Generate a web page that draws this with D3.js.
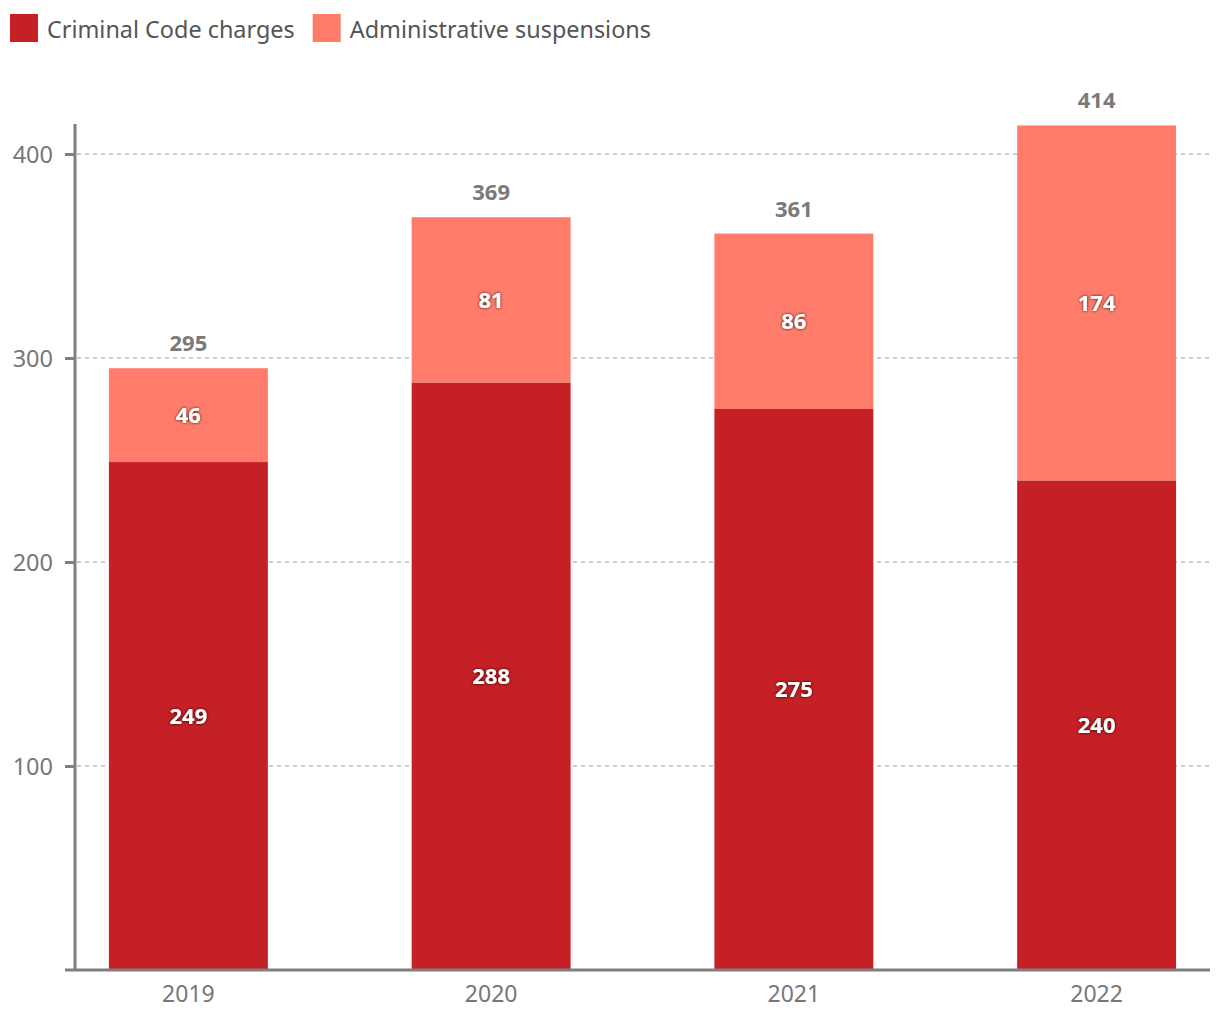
<!DOCTYPE html>
<html><head><meta charset="utf-8">
<script src="https://cdn.jsdelivr.net/npm/d3@7"></script>
<style>body{margin:0;background:#fff;} svg{display:block;}</style>
</head><body>
<script>
const years = ["2019", "2020", "2021", "2022"];
const criminal = [249, 288, 275, 240];
const admin = [46, 81, 86, 174];
const seriesNames = ["Criminal Code charges", "Administrative suspensions"];
const yTicks = [100, 200, 300, 400];
const colors = ["#c42026", "#ff7c6b"];

const W = 1220, H = 1020;
const svg = d3.select("body").append("svg").attr("width", W).attr("height", H);
const font = "'Noto Sans', sans-serif";

const x = d3.scaleBand().domain(years).range([75, 1210]).paddingInner(0.475).paddingOuter(0.112);
const y = d3.scaleLinear().domain([0, 400]).range([970, 154]);

// grid
svg.append("g").selectAll("line").data(yTicks).join("line")
  .attr("x1", 77).attr("x2", 1210)
  .attr("y1", d => y(d)).attr("y2", d => y(d))
  .attr("stroke", "#b4bcc2").attr("stroke-width", 1.5).attr("stroke-dasharray", "4,4");

const data = years.map((yr, i) => ({yr, c: criminal[i], a: admin[i], t: criminal[i] + admin[i]}));

// bars
const g = svg.append("g");
g.selectAll("rect.c").data(data).join("rect").attr("class", "c")
  .attr("x", d => x(d.yr)).attr("width", x.bandwidth())
  .attr("y", d => y(d.c)).attr("height", d => y(0) - y(d.c))
  .attr("fill", colors[0]);
g.selectAll("rect.a").data(data).join("rect").attr("class", "a")
  .attr("x", d => x(d.yr)).attr("width", x.bandwidth())
  .attr("y", d => y(d.t)).attr("height", d => y(d.c) - y(d.t))
  .attr("fill", colors[1]);

// shadow filter
const defs = svg.append("defs");
const f = defs.append("filter").attr("id", "sh").attr("x", "-20%").attr("y", "-40%").attr("width", "140%").attr("height", "180%");
f.append("feDropShadow").attr("dx", 0).attr("dy", 0).attr("stdDeviation", 1.5).attr("flood-color", "#000").attr("flood-opacity", 0.85);

// segment labels
function segLabel(vals, lo, hi) {
  svg.append("g").selectAll("text").data(data).join("text")
    .attr("x", d => x(d.yr) + x.bandwidth() / 2)
    .attr("y", d => (y(lo(d)) + y(hi(d))) / 2)
    .attr("dy", "0.36em")
    .attr("text-anchor", "middle")
    .attr("font-family", font).attr("font-weight", 700).attr("font-size", 22)
    .attr("fill", "#fff").attr("filter", "url(#sh)")
    .text(vals);
}
segLabel(d => d.c, d => 0, d => d.c);
segLabel(d => d.a, d => d.c, d => d.t);

// totals
svg.append("g").selectAll("text").data(data).join("text")
  .attr("x", d => x(d.yr) + x.bandwidth() / 2)
  .attr("y", d => y(d.t) - 17)
  .attr("text-anchor", "middle")
  .attr("font-family", font).attr("font-weight", 700).attr("font-size", 22)
  .attr("fill", "#7a7a7a")
  .text(d => d.t);

// y axis
const ya = svg.append("g").attr("transform", "translate(75,0)")
  .call(d3.axisLeft(y).tickValues(yTicks).tickSize(10).tickPadding(12));
ya.select(".domain").attr("d", `M0,${y(0)+1}V124`).attr("stroke", "#7f7f7f").attr("stroke-width", 3);
ya.selectAll(".tick line").attr("stroke", "#7f7f7f").attr("stroke-width", 3);
ya.selectAll(".tick text").attr("font-family", font).attr("font-size", 23.5).attr("fill", "#777").attr("dy", "0.36em");

// x axis
const xa = svg.append("g").attr("transform", "translate(0,970)")
  .call(d3.axisBottom(x).tickSize(0).tickPadding(16));
xa.select(".domain").attr("d", "M65,0H1210").attr("stroke", "#7f7f7f").attr("stroke-width", 3);
xa.selectAll(".tick text").attr("font-family", font).attr("font-size", 23).attr("fill", "#777");

// legend
const lg = svg.append("g");
let lx = 10;
seriesNames.forEach((name, i) => {
  lg.append("rect").attr("x", lx).attr("y", 14).attr("width", 28).attr("height", 28).attr("fill", colors[i]);
  const t = lg.append("text").attr("x", lx + 37).attr("y", 38)
    .attr("font-family", font).attr("font-size", 23.4).attr("fill", "#555").text(name);
  lx += 37 + t.node().getComputedTextLength() + 18;
});
</script>
</body></html>
